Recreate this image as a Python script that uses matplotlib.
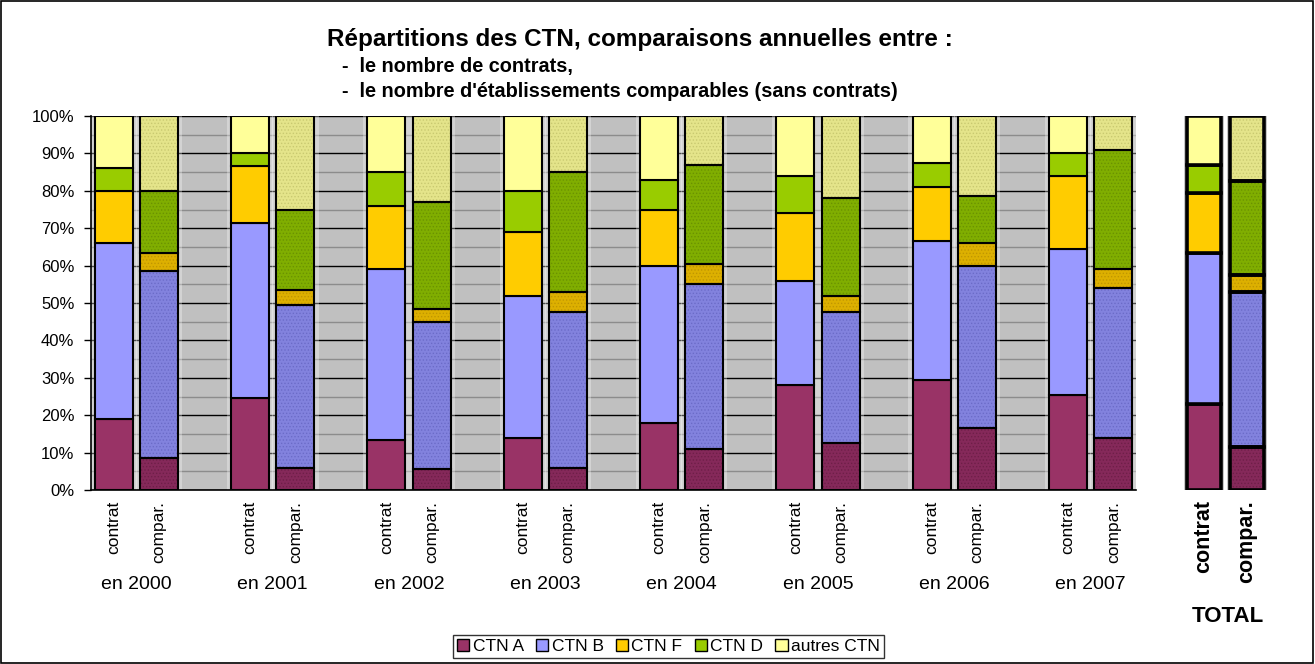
import matplotlib
matplotlib.use("Agg")
import matplotlib.pyplot as plt
from matplotlib.patches import Patch, Rectangle
from matplotlib.ticker import MultipleLocator, PercentFormatter

plt.rcParams['font.family'] = ['Liberation Sans', 'DejaVu Sans']
plt.rcParams['hatch.linewidth'] = 0.6

years = ['en 2000', 'en 2001', 'en 2002', 'en 2003', 'en 2004', 'en 2005', 'en 2006', 'en 2007']
series = ['CTN A', 'CTN B', 'CTN F', 'CTN D', 'autres CTN']

# cumulative tops (%), per series: A, B, F, D (autres goes to 100)
contrat_cum = [
    [19, 66, 80, 86],
    [24.5, 71.5, 86.5, 90],
    [13.5, 59, 76, 85],
    [14, 52, 69, 80],
    [18, 60, 75, 83],
    [28, 56, 74, 84],
    [29.5, 66.5, 81, 87.5],
    [25.5, 64.5, 84, 90],
]
compar_cum = [
    [8.5, 58.5, 63.5, 80],
    [6, 49.5, 53.5, 75],
    [5.5, 45, 48.5, 77],
    [6, 47.5, 53, 85],
    [11, 55, 60.5, 87],
    [12.5, 47.5, 52, 78],
    [16.5, 60, 66, 78.5],
    [14, 54, 59, 91],
]
total_contrat_cum = [23, 63.5, 79.5, 87]
total_compar_cum = [11.5, 53, 57.5, 82.5]

colors = ['#993366', '#9999FF', '#FFCC00', '#99CC00', '#FFFF99']
colors_comp = ['#85295A', '#8282DE', '#DDB000', '#80AE00', '#E4E48A']
hatch_comp = ['#6E1F48', '#6B6BC8', '#C09600', '#6A9300', '#C9C970']


def segments(cum):
    tops = list(cum) + [100]
    bottoms = [0] + list(cum)
    return bottoms, [t - b for t, b in zip(tops, bottoms)]


def draw_stack(ax, x, cum, width, comp, lw):
    bottoms, heights = segments(cum)
    for k in range(5):
        if comp:
            ax.bar(x, heights[k], width, bottom=bottoms[k], color=colors_comp[k],
                   hatch='.....', edgecolor=hatch_comp[k], linewidth=0, zorder=3)
            ax.bar(x, heights[k], width, bottom=bottoms[k], fill=False,
                   edgecolor='black', linewidth=lw, zorder=4)
        else:
            ax.bar(x, heights[k], width, bottom=bottoms[k], color=colors[k],
                   edgecolor='black', linewidth=lw, zorder=4)


fig = plt.figure(figsize=(13.15, 6.64), dpi=100)
fig.patches.append(Rectangle((0.0005, 0.001), 0.998, 0.997, transform=fig.transFigure,
                             fill=False, edgecolor='black', linewidth=1.2))

ax = fig.add_axes([0.0692, 0.262, 0.7947, 0.5633])
ax.set_facecolor('#C0C0C0')
w = 0.836
for i in range(len(years)):
    xc, xp = 3 * i + 1, 3 * i + 2
    for x in (xc, xp):
        ax.bar(x, 100, w + 0.18, color='white', alpha=0.3, linewidth=0, zorder=2)
    draw_stack(ax, xc, contrat_cum[i], w, False, 1.5)
    draw_stack(ax, xp, compar_cum[i], w, True, 1.5)
    ax.text(xc, -2.8, 'contrat', rotation=90, ha='center', va='top', fontsize=12.5)
    ax.text(xp, -2.8, 'compar.', rotation=90, ha='center', va='top', fontsize=12.5)
    ax.text(3 * i + 1.5, -25.3, years[i], ha='center', va='center', fontsize=14)

ax.set_xlim(0.5, 23.5)
ax.set_ylim(0, 100)
ax.yaxis.set_major_locator(MultipleLocator(10))
ax.yaxis.set_minor_locator(MultipleLocator(5))
ax.yaxis.set_major_formatter(PercentFormatter(decimals=0))
ax.set_xticks([])
ax.tick_params(axis='y', which='major', labelsize=12, length=5, width=1, pad=7)
ax.tick_params(axis='y', which='minor', length=0)
ax.grid(axis='y', which='major', color='black', linewidth=1, zorder=1)
ax.grid(axis='y', which='minor', color='#8C8C8C', linewidth=1, zorder=1)
ax.set_axisbelow(True)
for s in ['top', 'right']:
    ax.spines[s].set_visible(False)
ax.spines['left'].set_linewidth(1.2)
ax.spines['bottom'].set_linewidth(1.2)

# TOTAL panel
axt = fig.add_axes([0.8966, 0.262, 0.07, 0.5633])
axt.set_facecolor('white')
for x in (0, 1):
    axt.bar(x, 100, 0.95, color='#C8C8C8', linewidth=0, zorder=2)
draw_stack(axt, 0, total_contrat_cum, 0.81, False, 2.6)
draw_stack(axt, 1, total_compar_cum, 0.81, True, 2.6)
axt.set_xlim(-0.58, 1.56)
axt.set_ylim(0, 100)
axt.axis('off')
axt.text(0, -2.6, 'contrat', rotation=90, ha='center', va='top', fontsize=15.5, fontweight='bold')
axt.text(1, -2.6, 'compar.', rotation=90, ha='center', va='top', fontsize=15.5, fontweight='bold')
fig.text(0.934, 0.072, 'TOTAL', ha='center', va='center', fontsize=16, fontweight='bold')

# titles
fig.text(0.487, 0.94, 'Répartitions des CTN, comparaisons annuelles entre :',
         ha='center', va='center', fontsize=17.5, fontweight='bold')
fig.text(0.26, 0.9, '-  le nombre de contrats,', ha='left', va='center',
         fontsize=14.3, fontweight='bold')
fig.text(0.26, 0.862, "-  le nombre d'établissements comparables (sans contrats)",
         ha='left', va='center', fontsize=14.3, fontweight='bold')

handles = [Patch(facecolor=c, edgecolor='black', linewidth=1) for c in colors]
leg = fig.legend(handles, series, loc='center', bbox_to_anchor=(0.5084, 0.0263), ncol=5,
                 fontsize=12.5, frameon=True, fancybox=False, handlelength=0.7,
                 handleheight=0.7, handletextpad=0.2, columnspacing=0.7,
                 borderpad=0.25, borderaxespad=0)
leg.get_frame().set_edgecolor('black')
leg.get_frame().set_linewidth(1)

fig.savefig('out.png', dpi=100)
